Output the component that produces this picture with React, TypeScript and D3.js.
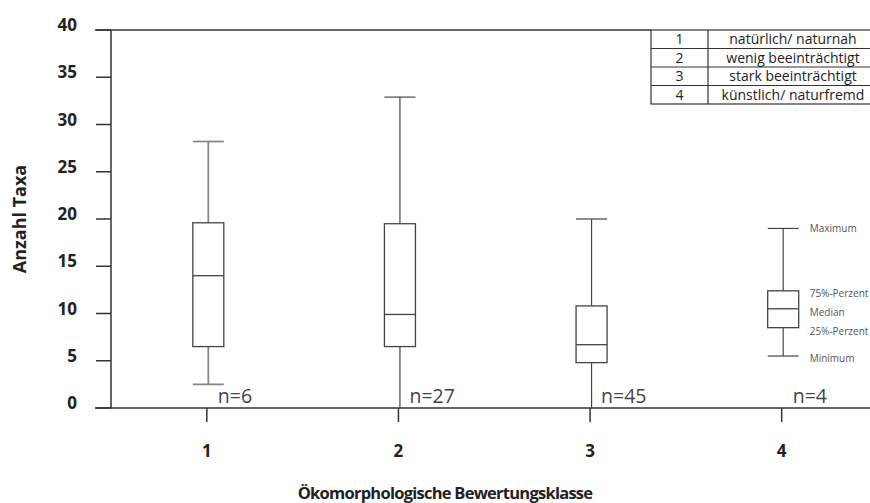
import React from "react";
import * as d3 from "d3";

const categories = ["1", "2", "3", "4"];
const minValues = [2.5, 0, 0, 5.5];
const q1Values = [6.5, 6.5, 4.8, 8.5];
const medianValues = [14, 9.9, 6.7, 10.5];
const q3Values = [19.6, 19.5, 10.8, 12.4];
const maxValues = [28.2, 32.9, 20, 19];
const sampleSizes = ["n=6", "n=27", "n=45", "n=4"];
const yTicks = [0, 5, 10, 15, 20, 25, 30, 35, 40];
const legendKeys = ["1", "2", "3", "4"];
const legendLabels = [
  "natürlich/ naturnah",
  "wenig beeinträchtigt",
  "stark beeinträchtigt",
  "künstlich/ naturfremd",
];
const annotationLabels = ["Maximum", "75%-Perzent", "Median", "25%-Perzent", "Minimum"];

const W = 870;
const H = 503;
const FONT = "'Open Sans', 'Noto Sans', sans-serif";

export default function App() {
  const x = d3.scaleBand<string>().domain(categories).range([111, 877.5]).padding(0);
  const y = d3.scaleLinear().domain([0, 40]).range([408, 30]);
  const cx = (c: string) => (x(c) as number) + x.bandwidth() / 2;
  const boxW = 31;
  const stroke = "#444";

  const data = categories.map((c, i) => ({
    c,
    min: minValues[i],
    q1: q1Values[i],
    med: medianValues[i],
    q3: q3Values[i],
    max: maxValues[i],
    n: sampleSizes[i],
  }));

  const last = data[3];
  const annX = cx(last.c) + 30;
  const annY = [
    y(last.max) + 4,
    y(last.q3) + 6,
    y(last.med) + 7,
    y(last.q1) + 7,
    y(last.min) + 6,
  ];

  const legendX = 651;
  const legendDiv = 708;
  const legendTop = 30;
  const rowH = 18.5;

  return (
    <svg
      width={W}
      height={H}
      style={{ position: "absolute", left: 0, top: 0, background: "#fff" }}
      fontFamily={FONT}
    >
      <rect x={0} y={0} width={W} height={H} fill="#fff" />
      {/* top frame line */}
      <line x1={95} x2={legendX} y1={y(40)} y2={y(40)} stroke="#333" strokeWidth={1.5} />
      {/* y axis */}
      <line x1={111} x2={111} y1={y(40)} y2={y(0)} stroke="#333" strokeWidth={1.5} />
      {yTicks.map((t) => (
        <g key={t}>
          <line x1={96} x2={111} y1={y(t)} y2={y(t)} stroke="#333" strokeWidth={1.5} />
          <text
            x={77}
            y={y(t) + 1}
            textAnchor="end"
            fontSize={17}
            fontWeight="bold"
            fill="#222"
          >
            {t}
          </text>
        </g>
      ))}
      {/* x axis */}
      <line x1={95} x2={W} y1={y(0)} y2={y(0)} stroke="#333" strokeWidth={1.5} />
      {categories.map((c) => (
        <g key={c}>
          <line x1={cx(c)} x2={cx(c)} y1={y(0)} y2={y(0) + 14} stroke="#333" strokeWidth={1.5} />
          <text x={cx(c)} y={457} textAnchor="middle" fontSize={17} fontWeight="bold" fill="#222">
            {c}
          </text>
        </g>
      ))}
      <text
        x={445}
        y={499}
        textAnchor="middle"
        fontSize={16.5}
        fontWeight="bold"
        letterSpacing={-0.75}
        fill="#222"
      >
        Ökomorphologische Bewertungsklasse
      </text>
      <text
        transform={`translate(26,219) rotate(-90)`}
        textAnchor="middle"
        fontSize={18}
        fontWeight="bold"
        fill="#222"
      >
        Anzahl Taxa
      </text>

      {/* boxes */}
      {data.map((d, i) => {
        const mx = cx(d.c) + 1.5;
        const wColor = i === 0 ? "#888" : "#444";
        const wWidth = i === 0 ? 1.8 : 1.2;
        return (
          <g key={d.c}>
            <line x1={mx} x2={mx} y1={y(d.max)} y2={y(d.q3)} stroke={wColor} strokeWidth={wWidth} />
            <line x1={mx} x2={mx} y1={y(d.q1)} y2={y(d.min)} stroke={wColor} strokeWidth={wWidth} />
            <line
              x1={mx - boxW / 2}
              x2={mx + boxW / 2}
              y1={y(d.max)}
              y2={y(d.max)}
              stroke={wColor}
              strokeWidth={wWidth}
            />
            {d.min > 0 && (
              <line
                x1={mx - boxW / 2}
                x2={mx + boxW / 2}
                y1={y(d.min)}
                y2={y(d.min)}
                stroke={wColor}
                strokeWidth={wWidth}
              />
            )}
            <rect
              x={mx - boxW / 2}
              y={y(d.q3)}
              width={boxW}
              height={y(d.q1) - y(d.q3)}
              fill="#fff"
              stroke={stroke}
              strokeWidth={1.3}
            />
            <line
              x1={mx - boxW / 2}
              x2={mx + boxW / 2}
              y1={y(d.med)}
              y2={y(d.med)}
              stroke={stroke}
              strokeWidth={1.3}
            />
            <text x={cx(d.c) + 11} y={403} fontSize={19.5} fill="#444">
              {d.n}
            </text>
          </g>
        );
      })}

      {/* box annotations */}
      {annotationLabels.map((l, i) => (
        <text key={l} x={annX - 2} y={annY[i]} fontSize={10} fill="#555">
          {l}
        </text>
      ))}

      {/* legend table */}
      <g>
        <rect
          x={legendX}
          y={legendTop}
          width={W + 5 - legendX}
          height={rowH * 4}
          fill="#fff"
          stroke="#333"
          strokeWidth={1.2}
        />
        <line x1={legendDiv} x2={legendDiv} y1={legendTop} y2={legendTop + rowH * 4} stroke="#333" strokeWidth={1.2} />
        {legendKeys.map((k, i) => (
          <g key={k}>
            {i > 0 && (
              <line
                x1={legendX}
                x2={W}
                y1={legendTop + rowH * i}
                y2={legendTop + rowH * i}
                stroke="#333"
                strokeWidth={1.2}
              />
            )}
            <text
              x={(legendX + legendDiv) / 2}
              y={legendTop + rowH * i + rowH / 2 + 5}
              textAnchor="middle"
              fontSize={14}
              fill="#222"
            >
              {k}
            </text>
            <text
              x={793}
              y={legendTop + rowH * i + rowH / 2 + 5}
              textAnchor="middle"
              fontSize={14}
              fill="#222"
            >
              {legendLabels[i]}
            </text>
          </g>
        ))}
      </g>
    </svg>
  );
}
